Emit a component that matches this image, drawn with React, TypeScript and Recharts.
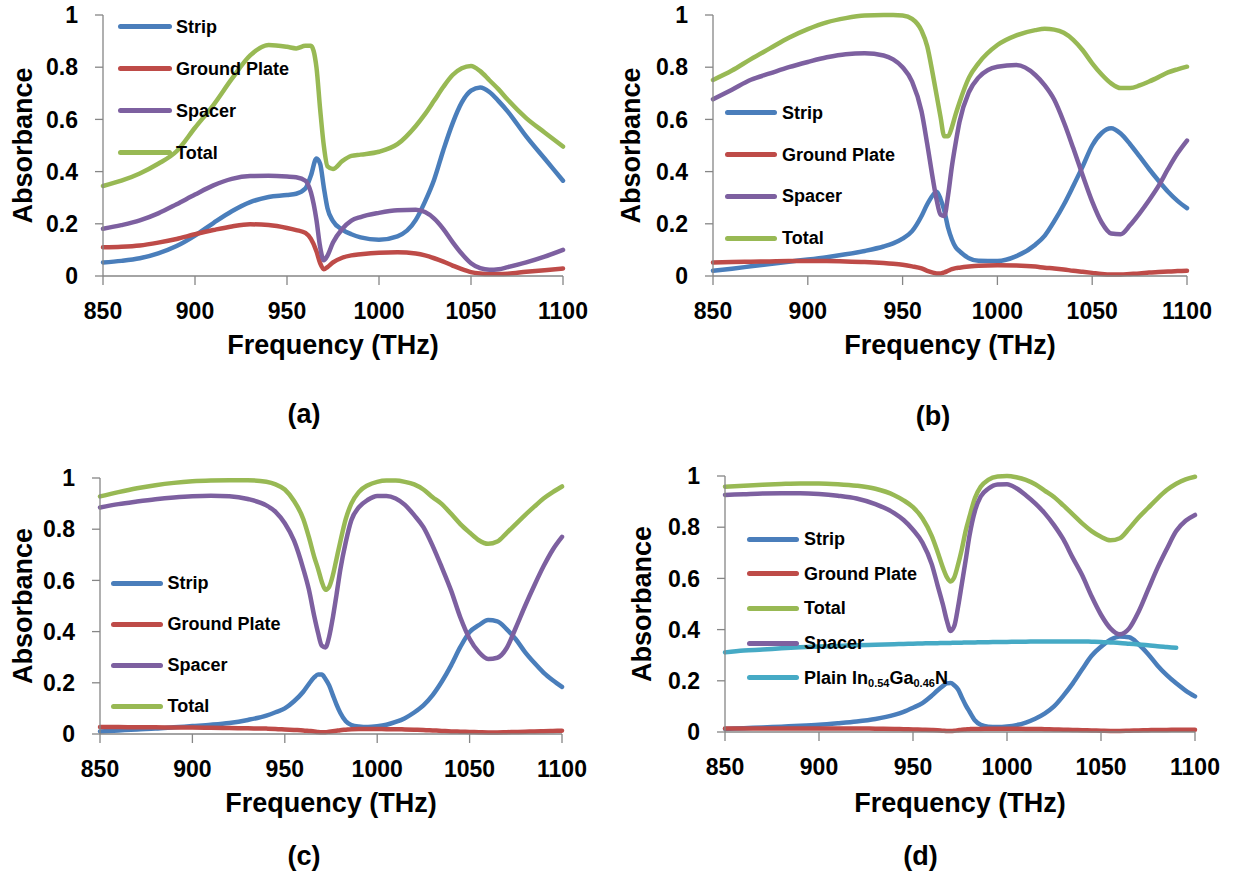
import React from 'react';
import { LineChart, Line, XAxis, YAxis, Legend } from 'recharts';

const FONT = "'Liberation Sans', Arial, Helvetica, sans-serif";
const AXIS = '#868686';
const C_STRIP = '#4A7EBB';
const C_GROUND = '#BE4B48';
const C_SPACER = '#7D60A0';
const C_TOTAL = '#98B954';
const C_PLAIN = '#46AAC5';

const xTicks = [850, 900, 950, 1000, 1050, 1100];
const yTicks = [0, 0.2, 0.4, 0.6, 0.8, 1];

// ---------- Panel (a) ----------
const freqA = [850, 860, 870, 880, 890, 900, 910, 920, 930, 940, 950, 955, 960, 963, 966, 968, 970, 972, 975, 980, 985, 990, 1000, 1010, 1020, 1025, 1030, 1035, 1040, 1045, 1050, 1055, 1060, 1065, 1070, 1080, 1090, 1100];
const stripA = [0.052, 0.058, 0.068, 0.087, 0.115, 0.155, 0.203, 0.248, 0.283, 0.303, 0.31, 0.315, 0.335, 0.385, 0.45, 0.43, 0.34, 0.26, 0.21, 0.178, 0.16, 0.148, 0.139, 0.152, 0.215, 0.285, 0.37, 0.483, 0.585, 0.665, 0.71, 0.722, 0.705, 0.67, 0.63, 0.535, 0.45, 0.365];
const groundA = [0.11, 0.112, 0.117, 0.128, 0.142, 0.16, 0.176, 0.19, 0.198, 0.195, 0.184, 0.176, 0.165, 0.142, 0.095, 0.049, 0.026, 0.034, 0.052, 0.07, 0.079, 0.083, 0.089, 0.091, 0.086, 0.079, 0.068, 0.055, 0.04, 0.026, 0.015, 0.01, 0.008, 0.008, 0.009, 0.016, 0.022, 0.029];
const spacerA = [0.181, 0.195, 0.213, 0.24, 0.275, 0.312, 0.347, 0.372, 0.383, 0.384, 0.381, 0.378, 0.365, 0.32, 0.215, 0.112, 0.06, 0.078, 0.128, 0.18, 0.212, 0.226, 0.242, 0.252, 0.254, 0.245, 0.22, 0.18, 0.13, 0.085, 0.049, 0.03, 0.024, 0.026, 0.034, 0.052, 0.074, 0.1];
const totalA = [0.345, 0.365, 0.393, 0.43, 0.478, 0.568, 0.655, 0.755, 0.845, 0.885, 0.878, 0.872, 0.882, 0.882, 0.8, 0.64, 0.5, 0.42, 0.41, 0.44, 0.46, 0.465, 0.476, 0.505, 0.575, 0.62, 0.672, 0.725, 0.77, 0.796, 0.805, 0.785, 0.75, 0.715, 0.675, 0.605, 0.55, 0.496];

// ---------- Panel (b) ----------
const freqB = [850, 860, 870, 880, 890, 900, 910, 920, 930, 940, 945, 950, 955, 960, 963, 966, 968, 970, 972, 974, 976, 978, 980, 985, 990, 1000, 1010, 1020, 1025, 1030, 1035, 1040, 1045, 1050, 1055, 1060, 1065, 1070, 1075, 1080, 1085, 1090, 1095, 1100];
const stripB = [0.02, 0.028, 0.037, 0.046, 0.055, 0.063, 0.072, 0.083, 0.096, 0.113, 0.125, 0.143, 0.172, 0.23, 0.275, 0.31, 0.323, 0.295, 0.25, 0.185, 0.14, 0.11, 0.095, 0.068, 0.058, 0.057, 0.076, 0.12, 0.155, 0.21, 0.273, 0.345, 0.42, 0.5, 0.548, 0.566, 0.546, 0.505, 0.458, 0.41, 0.365, 0.323, 0.288, 0.26];
const groundB = [0.052, 0.054, 0.055, 0.056, 0.057, 0.057, 0.057, 0.056, 0.054, 0.05, 0.047, 0.043, 0.037, 0.029, 0.02, 0.013, 0.01, 0.01, 0.014, 0.02, 0.026, 0.03, 0.032, 0.036, 0.039, 0.041, 0.04, 0.036, 0.032, 0.029, 0.025, 0.02, 0.016, 0.012, 0.008, 0.006, 0.006, 0.008, 0.01, 0.013, 0.015, 0.017, 0.019, 0.02];
const spacerB = [0.677, 0.714, 0.752, 0.776, 0.8, 0.82, 0.838, 0.85, 0.853, 0.845, 0.83, 0.8, 0.745, 0.63, 0.505, 0.37, 0.29, 0.235, 0.23, 0.31, 0.42, 0.51, 0.59, 0.705, 0.76, 0.802, 0.808, 0.77, 0.73, 0.675, 0.59, 0.49, 0.385, 0.285, 0.205, 0.163, 0.16, 0.195, 0.24, 0.29, 0.345, 0.41, 0.47, 0.519];
const totalB = [0.751, 0.787, 0.831, 0.872, 0.913, 0.946, 0.972, 0.988, 0.998, 1.0, 1.0, 0.998, 0.985, 0.94, 0.88, 0.77, 0.69, 0.61, 0.535, 0.535, 0.57, 0.62, 0.665, 0.76, 0.815, 0.885, 0.922, 0.942, 0.947, 0.944, 0.932, 0.905, 0.865, 0.815, 0.772, 0.738, 0.72, 0.72, 0.73, 0.745, 0.762, 0.78, 0.792, 0.802];

// ---------- Panel (c) ----------
const freqC = [850, 860, 870, 880, 890, 900, 910, 920, 930, 940, 945, 950, 955, 960, 963, 966, 968, 970, 972, 974, 976, 978, 980, 983, 986, 990, 995, 1000, 1005, 1010, 1015, 1020, 1025, 1030, 1035, 1040, 1045, 1050, 1055, 1060, 1065, 1070, 1075, 1080, 1085, 1090, 1095, 1100];
const stripC = [0.01, 0.014, 0.018, 0.021, 0.026, 0.031, 0.036, 0.043, 0.055, 0.072, 0.085, 0.1, 0.128, 0.165, 0.195, 0.222, 0.232, 0.232, 0.215, 0.19, 0.152, 0.115, 0.083, 0.05, 0.035, 0.029, 0.027, 0.03, 0.036, 0.047, 0.062, 0.084, 0.112, 0.152, 0.205, 0.268, 0.34, 0.398, 0.425, 0.445, 0.44, 0.41, 0.37, 0.32, 0.278, 0.24, 0.21, 0.184];
const groundC = [0.027, 0.027, 0.026, 0.026, 0.025, 0.025, 0.024, 0.023, 0.022, 0.021, 0.02, 0.018, 0.016, 0.014, 0.012, 0.01, 0.008, 0.007, 0.007, 0.009, 0.011, 0.013, 0.015, 0.017, 0.019, 0.02, 0.02, 0.02, 0.019, 0.019, 0.018, 0.017, 0.016, 0.014, 0.012, 0.01, 0.009, 0.008, 0.007, 0.006, 0.006, 0.007, 0.008, 0.009, 0.01, 0.011, 0.012, 0.013];
const spacerC = [0.885, 0.898, 0.908, 0.917, 0.924, 0.929, 0.931, 0.929, 0.918, 0.893, 0.868, 0.823, 0.755, 0.645, 0.565, 0.458, 0.395, 0.345, 0.338, 0.38, 0.455, 0.545, 0.64, 0.75, 0.835, 0.885, 0.915, 0.93, 0.93, 0.92, 0.895, 0.855, 0.808, 0.735, 0.65, 0.56, 0.455, 0.372, 0.32, 0.293, 0.298, 0.335, 0.415, 0.5, 0.58, 0.655, 0.72, 0.77];
const totalC = [0.928, 0.945, 0.96, 0.972, 0.981, 0.987, 0.99, 0.991, 0.991, 0.985, 0.975, 0.955, 0.91, 0.84, 0.77, 0.69, 0.645, 0.595, 0.563, 0.575, 0.62, 0.685, 0.75, 0.84, 0.9, 0.945, 0.972, 0.985, 0.99, 0.99, 0.985, 0.975, 0.955, 0.925, 0.898, 0.86, 0.82, 0.787, 0.757, 0.743, 0.752, 0.785, 0.82, 0.855, 0.888, 0.92, 0.945, 0.967];

// ---------- Panel (d) ----------
const freqD = [850, 860, 870, 880, 890, 900, 910, 920, 930, 940, 945, 950, 955, 960, 963, 966, 968, 970, 972, 974, 976, 978, 980, 983, 986, 990, 995, 1000, 1005, 1010, 1015, 1020, 1025, 1030, 1035, 1040, 1045, 1050, 1055, 1060, 1065, 1070, 1075, 1080, 1085, 1090, 1095, 1100];
const stripD = [0.012, 0.015, 0.018, 0.021, 0.024, 0.028, 0.034, 0.041, 0.051, 0.067, 0.079, 0.095, 0.113, 0.142, 0.162, 0.18, 0.19, 0.191, 0.182, 0.166, 0.135, 0.105, 0.08, 0.045, 0.028, 0.021, 0.02, 0.022, 0.027, 0.037, 0.052, 0.072, 0.1, 0.142, 0.19, 0.245, 0.298, 0.333, 0.36, 0.373, 0.37, 0.343, 0.305, 0.26, 0.222, 0.19, 0.162, 0.139];
const groundD = [0.014, 0.014, 0.014, 0.014, 0.014, 0.014, 0.014, 0.014, 0.013, 0.012, 0.011, 0.01, 0.009, 0.008, 0.007, 0.005, 0.004, 0.004, 0.005, 0.007, 0.009, 0.01, 0.011, 0.012, 0.012, 0.013, 0.013, 0.013, 0.013, 0.012, 0.012, 0.011, 0.01, 0.009, 0.008, 0.007, 0.006, 0.005, 0.004, 0.004, 0.005, 0.006, 0.007, 0.008, 0.008, 0.009, 0.009, 0.009];
const totalD = [0.958, 0.962, 0.966, 0.969, 0.971, 0.971, 0.968, 0.962, 0.95, 0.925, 0.905, 0.878, 0.835, 0.765, 0.705, 0.64, 0.605, 0.588, 0.605, 0.655, 0.715, 0.785, 0.84, 0.915, 0.958, 0.985, 0.998, 1.0, 0.995, 0.985, 0.968, 0.943, 0.918, 0.885, 0.85, 0.815, 0.785, 0.763, 0.749, 0.757, 0.795, 0.838, 0.875, 0.912, 0.945, 0.97, 0.987, 0.997];
const spacerD = [0.926, 0.929, 0.932, 0.933, 0.933, 0.93, 0.923, 0.912, 0.89, 0.855, 0.828, 0.79, 0.74, 0.655, 0.575, 0.495, 0.435, 0.395, 0.415, 0.49, 0.58, 0.67, 0.765, 0.865, 0.92, 0.95, 0.967, 0.968, 0.952, 0.925, 0.893, 0.855, 0.808, 0.752, 0.68, 0.612, 0.53, 0.458, 0.405, 0.382, 0.405, 0.47, 0.555, 0.64, 0.715, 0.785, 0.825, 0.848];
const plainD = [0.311, 0.318, 0.322, 0.327, 0.331, 0.334, 0.336, 0.339, 0.341, 0.343, 0.344, 0.345, 0.346, 0.347, 0.347, 0.348, 0.348, 0.348, 0.349, 0.349, 0.349, 0.35, 0.35, 0.35, 0.351, 0.351, 0.352, 0.352, 0.353, 0.353, 0.354, 0.354, 0.354, 0.354, 0.354, 0.354, 0.353, 0.352, 0.35, 0.348, 0.345, 0.342, 0.339, 0.335, 0.332, 0.329, null, null];

type Val = number | null;
interface SeriesDef { key: string; label: React.ReactNode; color: string; values: Val[] }

function buildRows(freq: number[], series: SeriesDef[]) {
  return freq.map((f, i) => {
    const row: Record<string, Val> = { f };
    series.forEach((s) => { row[s.key] = s.values[i]; });
    return row;
  });
}

const subStyle: React.CSSProperties = { fontSize: 11, verticalAlign: '-0.3em', lineHeight: 0 };
const plainLabel = (
  <>Plain In<span style={subStyle}>0.54</span>Ga<span style={subStyle}>0.46</span>N</>
);

const seriesA: SeriesDef[] = [
  { key: 'strip', label: 'Strip', color: C_STRIP, values: stripA },
  { key: 'ground', label: 'Ground Plate', color: C_GROUND, values: groundA },
  { key: 'spacer', label: 'Spacer', color: C_SPACER, values: spacerA },
  { key: 'total', label: 'Total', color: C_TOTAL, values: totalA },
];
const seriesB: SeriesDef[] = [
  { key: 'strip', label: 'Strip', color: C_STRIP, values: stripB },
  { key: 'ground', label: 'Ground Plate', color: C_GROUND, values: groundB },
  { key: 'spacer', label: 'Spacer', color: C_SPACER, values: spacerB },
  { key: 'total', label: 'Total', color: C_TOTAL, values: totalB },
];
const seriesC: SeriesDef[] = [
  { key: 'strip', label: 'Strip', color: C_STRIP, values: stripC },
  { key: 'ground', label: 'Ground Plate', color: C_GROUND, values: groundC },
  { key: 'spacer', label: 'Spacer', color: C_SPACER, values: spacerC },
  { key: 'total', label: 'Total', color: C_TOTAL, values: totalC },
];
const seriesD: SeriesDef[] = [
  { key: 'strip', label: 'Strip', color: C_STRIP, values: stripD },
  { key: 'ground', label: 'Ground Plate', color: C_GROUND, values: groundD },
  { key: 'total', label: 'Total', color: C_TOTAL, values: totalD },
  { key: 'spacer', label: 'Spacer', color: C_SPACER, values: spacerD },
  { key: 'plain', label: plainLabel, color: C_PLAIN, values: plainD },
];

const tickStyle = { fill: '#000', fontSize: 23, fontWeight: 700, fontFamily: FONT };
const titleStyle: React.CSSProperties = { fontFamily: FONT, fontSize: 27, fontWeight: 700 };

function LegendBox({ items, rowH, lineW, gap }: { items: SeriesDef[]; rowH: number; lineW: number; gap: number }) {
  return (
    <div style={{ display: 'flex', flexDirection: 'column', fontFamily: FONT }}>
      {items.map((it) => (
        <div key={it.key} style={{ display: 'flex', alignItems: 'center', height: rowH }}>
          <div style={{ width: lineW, height: 5, borderRadius: 3, background: it.color, flex: 'none' }} />
          <span style={{ marginLeft: gap, fontSize: 18, fontWeight: 700, color: '#000', whiteSpace: 'nowrap', lineHeight: '18px' }}>
            {it.label}
          </span>
        </div>
      ))}
    </div>
  );
}

interface PanelProps {
  series: SeriesDef[];
  freq: number[];
  width: number;
  height: number;
  margin: { top: number; right: number; bottom: number; left: number };
  legendLeft: number;
  legendTop: number;
  rowH: number;
  lineW: number;
  gap: number;
  yOff: number;
  xOff: number;
}

function Panel(p: PanelProps) {
  const data = buildRows(p.freq, p.series);
  const xTitle = (props: any) => {
    const vb = props.viewBox || {};
    const x = (vb.x || 0) + (vb.width || 0) / 2;
    const y = (vb.y || 0) + p.xOff;
    return (
      <text x={x} y={y} textAnchor="middle" fill="#000" style={titleStyle}>Frequency (THz)</text>
    );
  };
  const yTitle = (props: any) => {
    const vb = props.viewBox || {};
    const x = (vb.x || 0) + (vb.width || 0) - p.yOff;
    const y = (vb.y || 0) + (vb.height || 0) / 2;
    return (
      <text x={x} y={y} transform={`rotate(-90 ${x} ${y})`} textAnchor="middle" fill="#000" style={titleStyle}>Absorbance</text>
    );
  };
  return (
    <LineChart width={p.width} height={p.height} data={data} margin={p.margin} style={{ fontFamily: FONT }}>
      <XAxis
        dataKey="f"
        type="number"
        domain={[850, 1100]}
        ticks={xTicks}
        interval={0}
        tickSize={9}
        tickMargin={18}
        height={80}
        axisLine={{ stroke: AXIS, strokeWidth: 1.3 }}
        tickLine={{ stroke: AXIS, strokeWidth: 1.3 }}
        tick={tickStyle}
        label={xTitle}
      />
      <YAxis
        type="number"
        domain={[0, 1]}
        ticks={yTicks}
        interval={0}
        tickSize={8}
        tickMargin={17}
        width={70}
        axisLine={{ stroke: AXIS, strokeWidth: 1.3 }}
        tickLine={{ stroke: AXIS, strokeWidth: 1.3 }}
        tick={tickStyle}
        label={yTitle}
      />
      {p.series.map((s) => (
        <Line
          key={s.key}
          dataKey={s.key}
          type="monotone"
          stroke={s.color}
          strokeWidth={4.5}
          strokeLinecap="round"
          strokeLinejoin="round"
          dot={false}
          activeDot={false}
          connectNulls={false}
          isAnimationActive={false}
        />
      ))}
      <Legend
        layout="vertical"
        align="center"
        verticalAlign="middle"
        wrapperStyle={{ left: p.legendLeft, top: p.legendTop, width: 330 }}
        content={() => <LegendBox items={p.series} rowH={p.rowH} lineW={p.lineW} gap={p.gap} />}
      />
    </LineChart>
  );
}

const panelLabelStyle = (cx: number, cy: number): React.CSSProperties => ({
  position: 'absolute',
  left: cx - 40,
  top: cy - 17.4,
  width: 80,
  textAlign: 'center',
  fontFamily: FONT,
  fontSize: 27,
  fontWeight: 700,
  lineHeight: '30px',
  color: '#000',
});

export default function App() {
  return (
    <div style={{ position: 'absolute', left: 0, top: 0, width: 1235, height: 876, background: '#fff', overflow: 'hidden' }}>
      <div style={{ position: 'absolute', left: 0, top: 0 }}>
        <Panel series={seriesA} freq={freqA} width={617} height={438}
          margin={{ top: 15, right: 54, bottom: 82, left: 33 }}
          legendLeft={118} legendTop={5.7} rowH={42} lineW={54} gap={4} yOff={71} xOff={78} />
      </div>
      <div style={{ position: 'absolute', left: 617, top: 0 }}>
        <Panel series={seriesB} freq={freqB} width={618} height={438}
          margin={{ top: 15, right: 48, bottom: 82, left: 26 }}
          legendLeft={108} legendTop={91.7} rowH={41.9} lineW={52} gap={5} yOff={73} xOff={78} />
      </div>
      <div style={{ position: 'absolute', left: 0, top: 438 }}>
        <Panel series={seriesC} freq={freqC} width={617} height={438}
          margin={{ top: 40, right: 55, bottom: 62, left: 30 }}
          legendLeft={110.5} legendTop={124.9} rowH={40.9} lineW={52} gap={5} yOff={67.6} xOff={78} />
      </div>
      <div style={{ position: 'absolute', left: 617, top: 438 }}>
        <Panel series={seriesD} freq={freqD} width={618} height={438}
          margin={{ top: 38, right: 40, bottom: 64, left: 38 }}
          legendLeft={129.5} legendTop={84} rowH={34.6} lineW={52.5} gap={5} yOff={74.4} xOff={80} />
      </div>
      <div style={panelLabelStyle(304, 416)}>(a)</div>
      <div style={panelLabelStyle(933, 418)}>(b)</div>
      <div style={panelLabelStyle(304, 858.5)}>(c)</div>
      <div style={panelLabelStyle(920.5, 858.5)}>(d)</div>
    </div>
  );
}
